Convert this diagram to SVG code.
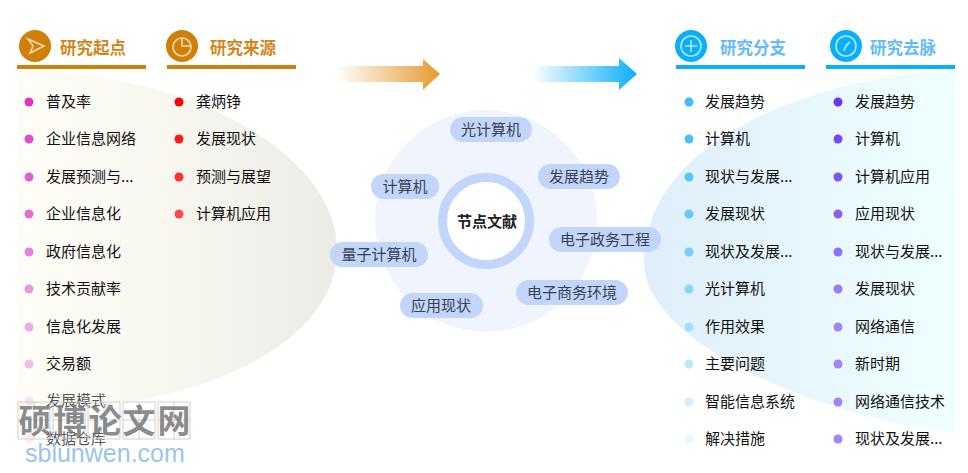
<svg xmlns="http://www.w3.org/2000/svg" width="968" height="473" viewBox="0 0 968 473">
<style>
text{font-family:"Noto Sans CJK SC","Liberation Sans",sans-serif}
.t{font-size:15px;fill:#111}
.f{fill:#555}
.h{font-size:16.500px;font-weight:700}
.o{fill:#d2861a}.b{fill:#62bbfb}
.c{font-size:15px;fill:#3b4150;text-anchor:middle}
.p{fill:#c2d6fb}
.w{fill:none;stroke:#cfcfcf;stroke-width:1}
.i{fill:none;stroke:#fff;stroke-opacity:.7;stroke-width:1.600}
</style>
<defs>
<linearGradient id="gl" x1="0" x2="1" y1="0" y2="0"><stop offset="0" stop-color="#fefdf6"/><stop offset=".5" stop-color="#f7f6ef"/><stop offset="1" stop-color="#edebe5"/></linearGradient>
<linearGradient id="gr" x1="0" x2="1" y1="0" y2="0"><stop offset="0" stop-color="#dfeef9"/><stop offset="1" stop-color="#f0ffff"/></linearGradient>
<linearGradient id="ao" x1="0" x2="1" y1="0" y2="0"><stop offset="0" stop-color="#e59a30" stop-opacity="0"/><stop offset="1" stop-color="#e59a30"/></linearGradient>
<linearGradient id="ab" x1="0" x2="1" y1="0" y2="0"><stop offset="0" stop-color="#0aaeff" stop-opacity="0"/><stop offset="1" stop-color="#0aaeff"/></linearGradient>
</defs>
<path d="M17 70C180 70 337 150 337 250C337 350 185 412 17 412Z" fill="url(#gl)"/>
<path d="M955 70C790 80 644 150 644 262C644 335 790 410 955 434Z" fill="url(#gr)"/>
<g id="connectors">
<path d="M336 66H423V59L440 74L423 90V82H336Z" fill="url(#ao)"/>
<path d="M532 66H619V58L637 74L619 90V82H532Z" fill="url(#ab)"/>
</g>
<g id="head-start">
<circle cx="35" cy="46" r="16" fill="#d08008"/><path class="i" d="M28 39L44 46L30 53L33 46Z"/>
<rect x="17" y="65" width="129" height="4" fill="#d08008"/><text class="h o" x="60" y="54">研究起点</text>
</g>
<g id="head-source">
<circle cx="182" cy="46" r="16" fill="#d08008"/><circle class="i" cx="182" cy="47" r="9"/><path class="i" d="M182 38V46H191"/>
<rect x="167" y="65" width="129" height="4" fill="#d08008"/><text class="h o" x="210" y="54">研究来源</text>
</g>
<g id="head-branch">
<circle cx="691" cy="46" r="16" fill="#0aaeff"/><circle class="i" cx="691" cy="46" r="10"/><path class="i" d="M685 46H697M691 40V52"/>
<rect x="676" y="65" width="129" height="4" fill="#0aaeff"/><text class="h b" x="720" y="54">研究分支</text>
</g>
<g id="head-trace">
<circle cx="846" cy="46" r="16" fill="#0aaeff"/><circle class="i" cx="846" cy="46" r="10"/><path class="i" d="M844 51C845 46 847 44 850 42"/>
<rect x="826" y="65" width="129" height="4" fill="#0aaeff"/><text class="h b" x="870" y="54">研究去脉</text>
</g>
<g id="list-start">
<circle cx="29" cy="102" r="4.500" fill="#dc36c4"/><text class="t" x="46" y="107">普及率</text>
<circle cx="29" cy="139" r="4.500" fill="#df4dca"/><text class="t" x="46" y="144">企业信息网络</text>
<circle cx="29" cy="177" r="4.500" fill="#e15fce"/><text class="t" x="46" y="182">发展预测与...</text>
<circle cx="29" cy="214" r="4.500" fill="#e36fd3"/><text class="t" x="46" y="219">企业信息化</text>
<circle cx="29" cy="252" r="4.500" fill="#e680d8"/><text class="t" x="46" y="257">政府信息化</text>
<circle cx="29" cy="289" r="4.500" fill="#ea95de"/><text class="t" x="46" y="294">技术贡献率</text>
<circle cx="29" cy="327" r="4.500" fill="#eeaae4"/><text class="t" x="46" y="332">信息化发展</text>
<circle cx="29" cy="364" r="4.500" fill="#f2bfea"/><text class="t" x="46" y="369">交易额</text>
<circle cx="29" cy="401" r="4.500" fill="#f8e0f4"/><text class="t f" x="46" y="406">发展模式</text>
<circle cx="29" cy="439" r="4.500" fill="#fbe8f8"/><text class="t f" x="46" y="444">数据仓库</text>
</g>
<g id="list-source">
<circle cx="179" cy="102" r="4.500" fill="#ff0000"/><text class="t" x="196" y="107">龚炳铮</text>
<circle cx="179" cy="139" r="4.500" fill="#ff1a1a"/><text class="t" x="196" y="144">发展现状</text>
<circle cx="179" cy="177" r="4.500" fill="#ff3030"/><text class="t" x="196" y="182">预测与展望</text>
<circle cx="179" cy="214" r="4.500" fill="#ff4a4a"/><text class="t" x="196" y="219">计算机应用</text>
</g>
<g id="center">
<circle cx="486" cy="221" r="111" fill="#f0f4fd"/>
<circle cx="486" cy="221" r="43.500" fill="#fff" stroke="#c2d6fb" stroke-width="9"/>
<text x="487" y="227" font-size="15" font-weight="700" fill="#222" text-anchor="middle">节点文献</text>
</g>
<g id="n1"><rect class="p" x="450" y="117" width="82" height="25" rx="12.500"/><text class="c" x="491" y="135">光计算机</text></g>
<g id="n2"><rect class="p" x="538" y="164" width="82" height="25" rx="12.500"/><text class="c" x="579" y="182">发展趋势</text></g>
<g id="n3"><rect class="p" x="371" y="174" width="68" height="25" rx="12.500"/><text class="c" x="405" y="192">计算机</text></g>
<g id="n4"><rect class="p" x="549" y="227" width="112" height="25" rx="12.500"/><text class="c" x="605" y="245">电子政务工程</text></g>
<g id="n5"><rect class="p" x="330" y="242" width="98" height="25" rx="12.500"/><text class="c" x="379" y="260">量子计算机</text></g>
<g id="n6"><rect class="p" x="516" y="280" width="112" height="25" rx="12.500"/><text class="c" x="572" y="298">电子商务环境</text></g>
<g id="n7"><rect class="p" x="400" y="293" width="83" height="25" rx="12.500"/><text class="c" x="441" y="311">应用现状</text></g>
<g id="list-branch">
<circle cx="689" cy="102" r="4.500" fill="#3dbdff"/><text class="t" x="705" y="107">发展趋势</text>
<circle cx="689" cy="139" r="4.500" fill="#47c2ff"/><text class="t" x="705" y="144">计算机</text>
<circle cx="689" cy="177" r="4.500" fill="#55c7ff"/><text class="t" x="705" y="182">现状与发展...</text>
<circle cx="689" cy="214" r="4.500" fill="#63ccff"/><text class="t" x="705" y="219">发展现状</text>
<circle cx="689" cy="252" r="4.500" fill="#70d0ff"/><text class="t" x="705" y="257">现状及发展...</text>
<circle cx="689" cy="289" r="4.500" fill="#86d7ff"/><text class="t" x="705" y="294">光计算机</text>
<circle cx="689" cy="327" r="4.500" fill="#a0dfff"/><text class="t" x="705" y="332">作用效果</text>
<circle cx="689" cy="364" r="4.500" fill="#bce8ff"/><text class="t" x="705" y="369">主要问题</text>
<circle cx="689" cy="402" r="4.500" fill="#d4f0ff"/><text class="t" x="705" y="407">智能信息系统</text>
<circle cx="689" cy="439" r="4.500" fill="#e8f7ff"/><text class="t" x="705" y="444">解决措施</text>
</g>
<g id="list-trace">
<circle cx="838" cy="102" r="4.500" fill="#6a35f5"/><text class="t" x="855" y="107">发展趋势</text>
<circle cx="838" cy="139" r="4.500" fill="#7645f6"/><text class="t" x="855" y="144">计算机</text>
<circle cx="838" cy="177" r="4.500" fill="#8053f6"/><text class="t" x="855" y="182">计算机应用</text>
<circle cx="838" cy="214" r="4.500" fill="#8a60f7"/><text class="t" x="855" y="219">应用现状</text>
<circle cx="838" cy="252" r="4.500" fill="#9270f7"/><text class="t" x="855" y="257">现状与发展...</text>
<circle cx="838" cy="289" r="4.500" fill="#9a7cf8"/><text class="t" x="855" y="294">发展现状</text>
<circle cx="838" cy="327" r="4.500" fill="#a084f8"/><text class="t" x="855" y="332">网络通信</text>
<circle cx="838" cy="364" r="4.500" fill="#a084f8"/><text class="t" x="855" y="369">新时期</text>
<circle cx="838" cy="402" r="4.500" fill="#a084f8"/><text class="t" x="855" y="407">网络通信技术</text>
<circle cx="838" cy="439" r="4.500" fill="#a084f8"/><text class="t" x="855" y="444">现状及发展...</text>
</g>
<g id="watermark">
<path class="w" d="M18 402H50V439H18ZM53 402H85V439H53ZM88 402H120V439H88ZM123 402H155V439H123ZM158 402H190V439H158ZM18 420H50M53 420H85M88 420H120M123 420H155M158 420H190M34 402V439M69 402V439M104 402V439M139 402V439M174 402V439"/>
<g font-size="33" font-weight="700" fill="#777" fill-opacity=".85" text-anchor="middle" style="font-family:'Noto Sans CJK SC',sans-serif"><text x="35" y="433">硕</text><text x="70" y="433">博</text><text x="105" y="433">论</text><text x="139" y="433">文</text><text x="174" y="433">网</text></g>
<text x="25" y="462" font-size="25" fill="#9cc4ee" style="font-family:'Liberation Sans',sans-serif">sblunwen.com</text>
</g>
</svg>
